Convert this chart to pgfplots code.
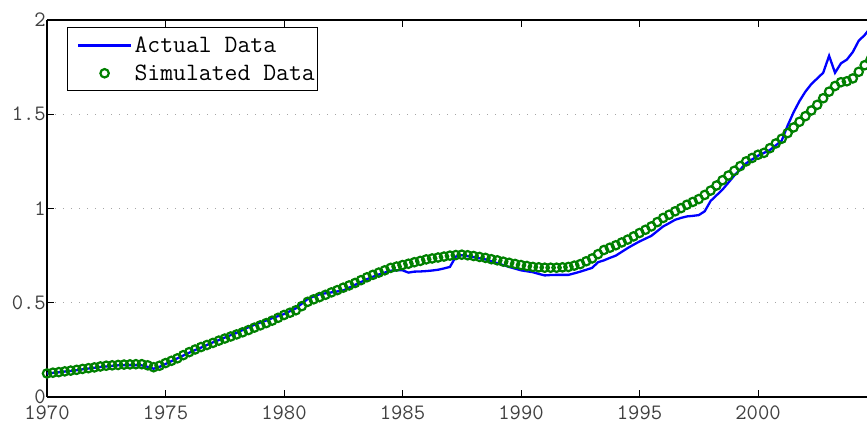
\documentclass[border=0pt]{standalone}
\usepackage{pgfplots}
\pgfplotsset{compat=1.18}
\usepackage{pgfplotstable}
\usepackage{fontspec}
\definecolor{mgreen}{RGB}{0,128,0}
\definecolor{mblue}{RGB}{0,0,255}
\pgfplotsset{
  longline legend/.style={legend image code/.code={%
    \pgfsetlinewidth{3pt}\pgfsetstrokecolor{mblue}%
    \pgfpathmoveto{\pgfpoint{0pt}{0pt}}\pgfpathlineto{\pgfpoint{53pt}{0pt}}\pgfusepath{stroke}}},
  longmark legend/.style={legend image code/.code={%
    \pgfpathmoveto{\pgfpoint{0pt}{0pt}}\pgfpathlineto{\pgfpoint{53pt}{0pt}}\pgfusepath{}%
    \pgfsetlinewidth{2.2pt}\pgfsetstrokecolor{mgreen}%
    \pgfpathcircle{\pgfpoint{26.5pt}{0pt}}{4.2pt}\pgfusepath{stroke}}},
}

\pgfplotstableread{
x y
1970.00 0.125
1970.25 0.128
1970.50 0.131
1970.75 0.135
1971.00 0.138
1971.25 0.142
1971.50 0.147
1971.75 0.151
1972.00 0.155
1972.25 0.159
1972.50 0.162
1972.75 0.165
1973.00 0.168
1973.25 0.169
1973.50 0.169
1973.75 0.169
1974.00 0.168
1974.25 0.160
1974.50 0.150
1974.75 0.160
1975.00 0.175
1975.25 0.190
1975.50 0.205
1975.75 0.220
1976.00 0.235
1976.25 0.249
1976.50 0.262
1976.75 0.276
1977.00 0.290
1977.25 0.302
1977.50 0.315
1977.75 0.328
1978.00 0.340
1978.25 0.355
1978.50 0.370
1978.75 0.383
1979.00 0.395
1979.25 0.406
1979.50 0.418
1979.75 0.429
1980.00 0.440
1980.25 0.455
1980.50 0.470
1980.75 0.495
1981.00 0.520
1981.25 0.533
1981.50 0.545
1981.75 0.550
1982.00 0.555
1982.25 0.560
1982.50 0.565
1982.75 0.580
1983.00 0.595
1983.25 0.610
1983.50 0.625
1983.75 0.638
1984.00 0.650
1984.25 0.660
1984.50 0.670
1984.75 0.672
1985.00 0.672
1985.25 0.660
1985.50 0.665
1985.75 0.666
1986.00 0.668
1986.25 0.671
1986.50 0.675
1986.75 0.682
1987.00 0.690
1987.25 0.745
1987.50 0.752
1987.75 0.747
1988.00 0.742
1988.25 0.736
1988.50 0.730
1988.75 0.720
1989.00 0.710
1989.25 0.700
1989.50 0.690
1989.75 0.681
1990.00 0.672
1990.25 0.667
1990.50 0.662
1990.75 0.653
1991.00 0.645
1991.25 0.647
1991.50 0.648
1991.75 0.648
1992.00 0.648
1992.25 0.656
1992.50 0.665
1992.75 0.675
1993.00 0.685
1993.25 0.715
1993.50 0.725
1993.75 0.738
1994.00 0.750
1994.25 0.770
1994.50 0.790
1994.75 0.808
1995.00 0.825
1995.25 0.840
1995.50 0.855
1995.75 0.880
1996.00 0.905
1996.25 0.922
1996.50 0.940
1996.75 0.950
1997.00 0.958
1997.25 0.961
1997.50 0.965
1997.75 0.985
1998.00 1.040
1998.25 1.070
1998.50 1.100
1998.75 1.137
1999.00 1.175
1999.25 1.207
1999.50 1.240
1999.75 1.260
2000.00 1.280
2000.25 1.295
2000.50 1.310
2000.75 1.335
2001.00 1.360
2001.25 1.440
2001.50 1.510
2001.75 1.570
2002.00 1.620
2002.25 1.660
2002.50 1.690
2002.75 1.720
2003.00 1.810
2003.25 1.720
2003.50 1.770
2003.75 1.790
2004.00 1.830
2004.25 1.890
2004.50 1.920
2004.75 1.960
}\actual

\pgfplotstableread{
x y
1970.00 0.125
1970.25 0.129
1970.50 0.132
1970.75 0.136
1971.00 0.140
1971.25 0.144
1971.50 0.149
1971.75 0.153
1972.00 0.157
1972.25 0.162
1972.50 0.166
1972.75 0.168
1973.00 0.170
1973.25 0.172
1973.50 0.173
1973.75 0.174
1974.00 0.174
1974.25 0.168
1974.50 0.158
1974.75 0.166
1975.00 0.180
1975.25 0.192
1975.50 0.205
1975.75 0.222
1976.00 0.238
1976.25 0.252
1976.50 0.265
1976.75 0.276
1977.00 0.287
1977.25 0.299
1977.50 0.310
1977.75 0.321
1978.00 0.332
1978.25 0.343
1978.50 0.355
1978.75 0.368
1979.00 0.380
1979.25 0.392
1979.50 0.405
1979.75 0.420
1980.00 0.435
1980.25 0.447
1980.50 0.460
1980.75 0.482
1981.00 0.505
1981.25 0.518
1981.50 0.530
1981.75 0.542
1982.00 0.555
1982.25 0.567
1982.50 0.580
1982.75 0.592
1983.00 0.605
1983.25 0.620
1983.50 0.635
1983.75 0.648
1984.00 0.660
1984.25 0.672
1984.50 0.685
1984.75 0.692
1985.00 0.700
1985.25 0.707
1985.50 0.715
1985.75 0.722
1986.00 0.730
1986.25 0.735
1986.50 0.740
1986.75 0.745
1987.00 0.750
1987.25 0.753
1987.50 0.755
1987.75 0.752
1988.00 0.748
1988.25 0.743
1988.50 0.738
1988.75 0.731
1989.00 0.725
1989.25 0.718
1989.50 0.712
1989.75 0.706
1990.00 0.700
1990.25 0.695
1990.50 0.690
1990.75 0.688
1991.00 0.686
1991.25 0.686
1991.50 0.686
1991.75 0.688
1992.00 0.690
1992.25 0.697
1992.50 0.705
1992.75 0.720
1993.00 0.735
1993.25 0.758
1993.50 0.780
1993.75 0.792
1994.00 0.805
1994.25 0.820
1994.50 0.835
1994.75 0.852
1995.00 0.870
1995.25 0.887
1995.50 0.905
1995.75 0.928
1996.00 0.950
1996.25 0.967
1996.50 0.985
1996.75 1.002
1997.00 1.020
1997.25 1.035
1997.50 1.050
1997.75 1.072
1998.00 1.095
1998.25 1.122
1998.50 1.150
1998.75 1.175
1999.00 1.200
1999.25 1.225
1999.50 1.250
1999.75 1.268
2000.00 1.285
2000.25 1.295
2000.50 1.320
2000.75 1.345
2001.00 1.370
2001.25 1.400
2001.50 1.430
2001.75 1.460
2002.00 1.490
2002.25 1.520
2002.50 1.550
2002.75 1.585
2003.00 1.620
2003.25 1.650
2003.50 1.670
2003.75 1.675
2004.00 1.690
2004.25 1.725
2004.50 1.760
2004.75 1.790
}\simulated

\begin{document}
\begin{tikzpicture}
\begin{axis}[
  scale only axis,
  width=829.5pt, height=377pt,
  xmin=1970, xmax=2005,
  ymin=0, ymax=2,
  xtick={1970,1975,...,2000},
  ytick={0,0.5,1,1.5,2},
  xticklabel style={/pgf/number format/1000 sep={}, yshift=-7.5pt, inner ysep=1pt},
  yticklabel style={/pgf/number format/fixed, inner sep=1pt},
  /pgf/number format/assume math mode=true,
  tick label style={font=\ttfamily\fontsize{22}{24}\selectfont, text=black!75},
  tick align=inside,
  major tick length=7pt,
  tick style={black, line width=0.8pt},
  axis line style={black, line width=1.2pt},
  axis x line*=box,
  axis y line*=left,
  ymajorgrids,
  grid style={gray!70, line width=1pt, dash pattern=on 1pt off 7pt},
  clip=true,
  legend style={at={(20pt,370pt)}, anchor=north west, draw=black, line width=1.2pt,
    font=\ttfamily\fontsize{25}{28}\selectfont, inner xsep=9pt, inner ysep=7pt,
    row sep=7pt, cells={anchor=west},
    /tikz/every even column/.append style={column sep=4pt}},
  legend cell align=left,
]
\addplot[mblue, line width=2.3pt, no markers, longline legend]
  table[x=x,y=y] {\actual};
\addlegendentry{Actual Data}
\addplot[only marks, mgreen, mark=o, mark size=4.2pt, mark options={line width=2.2pt}, longmark legend]
  table[x=x,y=y] {\simulated};
\addlegendentry{\makebox[172pt][l]{Simulated Data}}
\end{axis}
\pgfresetboundingbox
\path[use as bounding box] (-47pt,-31pt) rectangle (820pt,397pt);
\end{tikzpicture}
\end{document}
